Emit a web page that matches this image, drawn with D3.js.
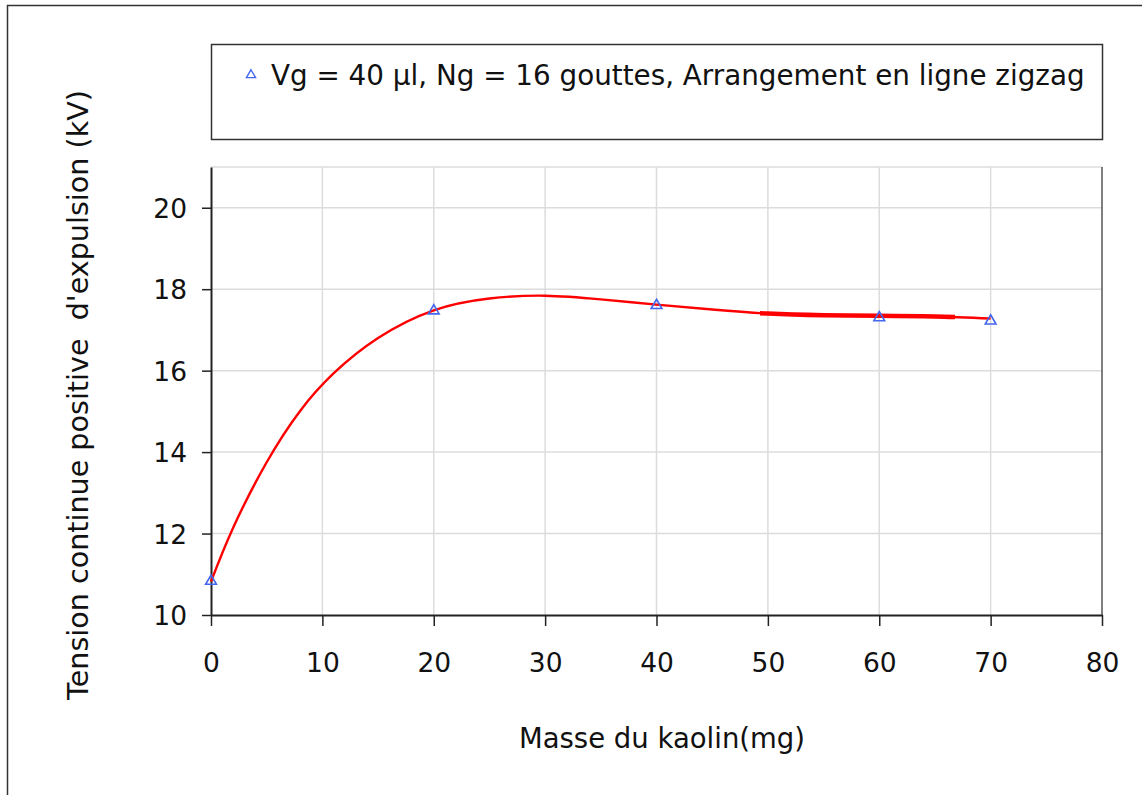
<!DOCTYPE html>
<html>
<head>
<meta charset="utf-8">
<script src="https://cdn.jsdelivr.net/npm/d3@7"></script>
<style>
  body { margin: 0; background: #fff; }
  svg { display: block; font-family: "DejaVu Sans", Verdana, sans-serif; }
</style>
</head>
<body>
<div id="chart"></div>
<script>
// Measured points (kaolin mass in mg, voltage in kV)
const masses = [0, 20, 40, 60, 70];
const voltages = [10.83, 17.47, 17.6, 17.3, 17.22];

// Trend curve
const curveX = [0, 2, 5, 8, 11, 15, 20, 25, 30, 35, 40, 45, 50, 55, 60, 65, 70];
const curveY = [10.82, 12.15, 13.75, 15.01, 15.93, 16.8, 17.48, 17.77, 17.84, 17.75, 17.62, 17.5, 17.4, 17.36, 17.35, 17.33, 17.28];
// stretch of the curve drawn heavier in the original
const thickRange = [49.3, 66.8];

const xTicks = [0, 10, 20, 30, 40, 50, 60, 70, 80];
const yTicks = [10, 12, 14, 16, 18, 20];

const legendLabel = "Vg = 40 µl, Ng = 16 gouttes, Arrangement en ligne zigzag";
const xLabel = "Masse du kaolin(mg)";
const yLabel = "Tension continue positive  d'expulsion (kV)";

const W = 1142, H = 795;

const svg = d3.select("#chart").append("svg")
  .attr("width", W).attr("height", H);

// outer frame
svg.append("rect")
  .attr("x", 7.5).attr("y", 5.5)
  .attr("width", W).attr("height", H)
  .attr("fill", "none").attr("stroke", "#333").attr("stroke-width", 1.5);

const x = d3.scaleLinear().domain([0, 80]).range([211, 1102]);
const y = d3.scaleLinear().domain([10, 21]).range([615, 167]);

// grid
svg.append("g").selectAll("line")
  .data(xTicks.filter(d => d > 0 && d < 80))
  .join("line")
  .attr("x1", d => x(d)).attr("x2", d => x(d))
  .attr("y1", y(21)).attr("y2", y(10))
  .attr("stroke", "#dcdcdc").attr("stroke-width", 1.5);

svg.append("g").selectAll("line")
  .data(yTicks.filter(d => d > 10).concat([21]))
  .join("line")
  .attr("x1", x(0)).attr("x2", x(80))
  .attr("y1", d => y(d)).attr("y2", d => y(d))
  .attr("stroke", "#dcdcdc").attr("stroke-width", 1.5);

// right border of plot
svg.append("line")
  .attr("x1", x(80)).attr("x2", x(80))
  .attr("y1", y(21)).attr("y2", y(10))
  .attr("stroke", "#555").attr("stroke-width", 1.5);

// axes
const xAxis = svg.append("g")
  .attr("transform", `translate(0,${y(10)})`)
  .call(d3.axisBottom(x).tickValues(xTicks).tickSize(11).tickPadding(27).tickSizeOuter(0));
const yAxis = svg.append("g")
  .attr("transform", `translate(${x(0)},0)`)
  .call(d3.axisLeft(y).tickValues(yTicks).tickSize(9).tickPadding(15).tickSizeOuter(0));

[xAxis, yAxis].forEach(g => {
  g.attr("font-family", null).attr("font-size", null);
  g.select(".domain").attr("stroke", "#222").attr("stroke-width", 2);
  g.selectAll(".tick line").attr("stroke", "#222").attr("stroke-width", 1.5);
  g.selectAll(".tick text").attr("fill", "#111").style("font-size", "26.5px");
});
yAxis.selectAll(".tick text").attr("dy", "0.36em");

// trend curve
const trend = curveX.map((d, i) => ({ x: d, y: curveY[i] }));
const line = d3.line().x(d => x(d.x)).y(d => y(d.y)).curve(d3.curveNatural);

svg.append("path")
  .datum(trend)
  .attr("d", line)
  .attr("fill", "none").attr("stroke", "#ff0000").attr("stroke-width", 2.4);

svg.append("clipPath").attr("id", "thick")
  .append("rect")
  .attr("x", x(thickRange[0])).attr("y", y(21))
  .attr("width", x(thickRange[1]) - x(thickRange[0]))
  .attr("height", y(10) - y(21));

svg.append("path")
  .datum(trend)
  .attr("d", line)
  .attr("clip-path", "url(#thick)")
  .attr("fill", "none").attr("stroke", "#ff0000").attr("stroke-width", 4.5);

// markers
const tri = d3.symbol().type(d3.symbolTriangle).size(50);
svg.append("g").selectAll("path")
  .data(masses.map((d, i) => ({ x: d, y: voltages[i] })))
  .join("path")
  .attr("d", tri)
  .attr("transform", d => `translate(${x(d.x)},${y(d.y)})`)
  .attr("fill", "none").attr("stroke", "#4466ee").attr("stroke-width", 1.6);

// legend
svg.append("rect")
  .attr("x", 211.5).attr("y", 44.5)
  .attr("width", 891).attr("height", 95)
  .attr("fill", "#fff").attr("stroke", "#333").attr("stroke-width", 1.5);
svg.append("path")
  .attr("d", d3.symbol().type(d3.symbolTriangle).size(36))
  .attr("transform", "translate(251,75)")
  .attr("fill", "none").attr("stroke", "#4466ee").attr("stroke-width", 1.4);
svg.append("text")
  .attr("x", 271).attr("y", 85)
  .style("font-size", "27.8px").attr("fill", "#111")
  .text(legendLabel);

// axis titles
svg.append("text")
  .attr("x", 662).attr("y", 748)
  .attr("text-anchor", "middle")
  .style("font-size", "27.5px").attr("fill", "#111")
  .text(xLabel);

svg.append("text")
  .attr("transform", "translate(88,395) rotate(-90)")
  .attr("text-anchor", "middle")
  .style("font-size", "28.6px").attr("fill", "#111")
  .style("white-space", "pre")
  .text(yLabel);
</script>
</body>
</html>
